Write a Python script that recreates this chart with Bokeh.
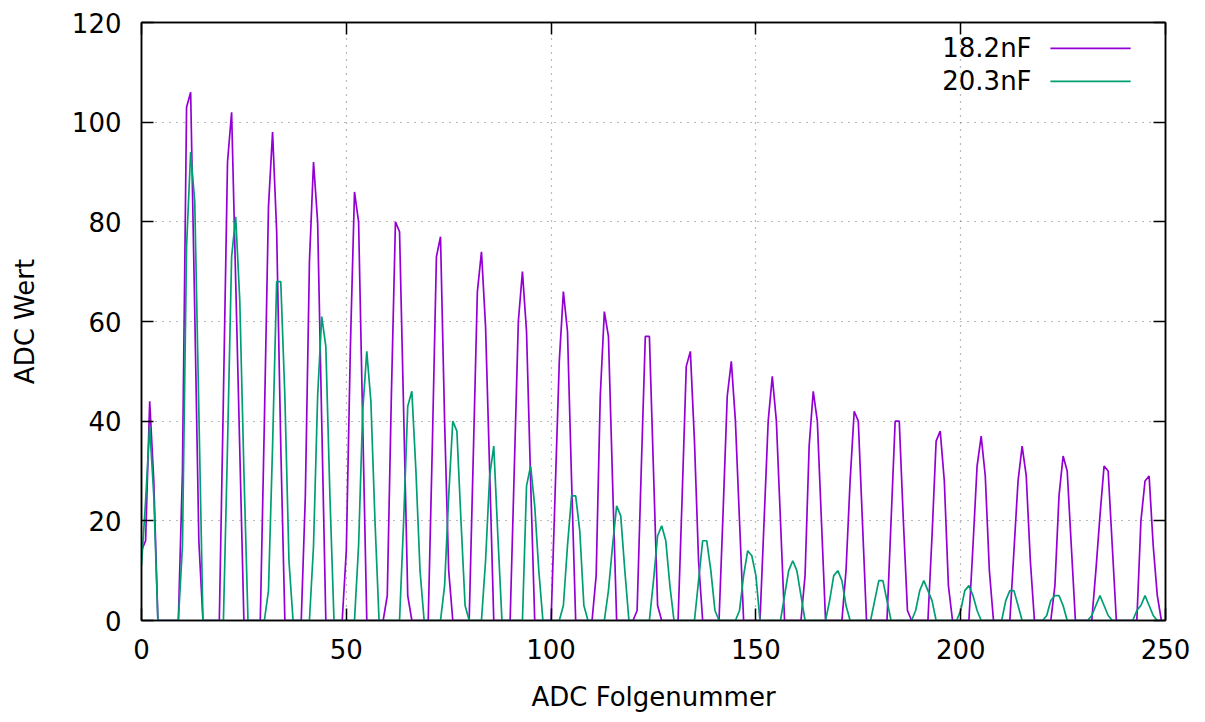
from bokeh.plotting import figure
from bokeh.models import Range1d, FixedTicker, LinearAxis, Label, BoxAnnotation
from bokeh.embed import file_html
from bokeh.resources import INLINE

# ---- data (ADC sample index 0..249) ----
series_names = ["18.2nF", "20.3nF"]
series_colors = ["#9400D3", "#009E73"]

adc_182 = [
    14, 16, 44, 28, 0, 0, 0, 0, 0, 0,
    30, 103, 106, 62, 16, 0, 0, 0, 0, 0,
    45, 92, 102, 68, 34, 0, 0, 0, 0, 0,
    40, 83, 98, 78, 35, 0, 0, 0, 0, 0,
    25, 72, 92, 80, 40, 0, 0, 0, 0, 0,
    14, 55, 86, 80, 40, 0, 0, 0, 0, 0,
    5, 45, 80, 78, 42, 5, 0, 0, 0, 0,
    0, 35, 73, 77, 40, 10, 0, 0, 0, 0,
    0, 33, 66, 74, 59, 30, 0, 0, 0, 0,
    0, 30, 60, 70, 58, 28, 0, 0, 0, 0,
    0, 26, 52, 66, 58, 28, 0, 0, 0, 0,
    0, 9, 45, 62, 57, 28, 0, 0, 0, 0,
    0, 2, 30, 57, 57, 30, 3, 0, 0, 0,
    0, 0, 25, 51, 54, 36, 12, 0, 0, 0,
    0, 0, 22, 45, 52, 40, 20, 0, 0, 0,
    0, 0, 20, 40, 49, 40, 20, 0, 0, 0,
    0, 0, 9, 35, 46, 40, 20, 0, 0, 0,
    0, 0, 10, 28, 42, 40, 20, 0, 0, 0,
    0, 0, 0, 20, 40, 40, 20, 2, 0, 0,
    0, 0, 0, 17, 36, 38, 28, 7, 0, 0,
    0, 0, 0, 15, 31, 37, 29, 10, 0, 0,
    0, 0, 0, 14, 28, 35, 29, 12, 0, 0,
    0, 0, 0, 7, 25, 33, 30, 15, 0, 0,
    0, 0, 0, 10, 21, 31, 30, 15, 0, 0,
    0, 0, 0, 0, 20, 28, 29, 15, 5, 0,
]

adc_203 = [
    11, 24, 39, 25, 0, 0, 0, 0, 0, 0,
    15, 75, 94, 84, 42, 0, 0, 0, 0, 0,
    0, 35, 73, 81, 64, 30, 0, 0, 0, 0,
    0, 6, 35, 68, 68, 45, 12, 0, 0, 0,
    0, 0, 15, 45, 61, 55, 25, 0, 0, 0,
    0, 0, 0, 15, 42, 54, 44, 20, 0, 0,
    0, 0, 0, 0, 20, 43, 46, 30, 10, 0,
    0, 0, 0, 0, 7, 25, 40, 38, 20, 3,
    0, 0, 0, 0, 12, 29, 35, 17, 0, 0,
    0, 0, 0, 0, 27, 31, 23, 10, 0, 0,
    0, 0, 0, 3, 15, 25, 25, 18, 3, 0,
    0, 0, 0, 0, 6, 15, 23, 21, 10, 0,
    0, 0, 0, 0, 0, 8, 17, 19, 16, 7,
    0, 0, 0, 0, 0, 0, 8, 16, 16, 10,
    2, 0, 0, 0, 0, 0, 2, 9, 14, 13,
    9, 0, 0, 0, 0, 0, 0, 5, 10, 12,
    10, 5, 0, 0, 0, 0, 0, 0, 4, 9,
    10, 8, 3, 0, 0, 0, 0, 0, 0, 4,
    8, 8, 4, 0, 0, 0, 0, 0, 0, 2,
    6, 8, 6, 4, 0, 0, 0, 0, 0, 0,
    2, 6, 7, 5, 2, 0, 0, 0, 0, 0,
    0, 4, 6, 6, 3, 0, 0, 0, 0, 0,
    0, 1, 4, 5, 5, 3, 0, 0, 0, 0,
    0, 0, 1, 3, 5, 3, 1, 0, 0, 0,
    0, 0, 0, 2, 3, 5, 3, 1, 0, 0,
]

sample_index = list(range(len(adc_182)))

x_ticks = [0, 50, 100, 150, 200, 250]
y_ticks = [0, 20, 40, 60, 80, 100, 120]
x_title = "ADC Folgenummer"
y_title = "ADC Wert"

FONT = "DejaVu Sans"
FS = "26px"

p = figure(width=1197, height=714, output_backend="svg", toolbar_location=None,
           x_range=Range1d(0, 250), y_range=Range1d(0, 120),
           min_border_left=141, min_border_right=32, min_border_top=22,
           min_border_bottom=94)

p.line(sample_index, adc_182, line_color=series_colors[0], line_width=1.7)
p.line(sample_index, adc_203, line_color=series_colors[1], line_width=1.7)

p.outline_line_color = "black"
p.outline_line_width = 1.5

for ax, ticks in ((p.xaxis[0], x_ticks), (p.yaxis[0], y_ticks)):
    ax.ticker = FixedTicker(ticks=ticks)
    ax.major_tick_in = 12
    ax.major_tick_out = 0
    ax.minor_tick_in = 0
    ax.minor_tick_out = 0
    ax.axis_line_width = 1.5
    ax.major_tick_line_width = 1.5
    ax.major_label_text_font = FONT
    ax.major_label_text_font_size = FS
    ax.major_label_text_color = "black"
    ax.axis_label_text_font = FONT
    ax.axis_label_text_font_size = FS
    ax.axis_label_text_font_style = "normal"
    ax.axis_label_text_color = "black"

p.xaxis[0].axis_label = x_title
p.yaxis[0].axis_label = y_title
p.xaxis[0].major_label_standoff = 18
p.yaxis[0].major_label_standoff = 20
p.xaxis[0].axis_label_standoff = 20
p.yaxis[0].axis_label_standoff = 29

# mirrored ticks on top and right (no labels)
for loc, ticks in (("above", x_ticks), ("right", y_ticks)):
    ax = LinearAxis(ticker=FixedTicker(ticks=ticks))
    ax.major_tick_in = 12
    ax.major_tick_out = 0
    ax.minor_tick_in = 0
    ax.minor_tick_out = 0
    ax.axis_line_width = 1.5
    ax.major_tick_line_width = 1.5
    ax.major_label_text_color = None
    ax.major_label_text_font_size = FS
    ax.major_label_standoff = 0
    p.add_layout(ax, loc)

for g, ticks in ((p.xgrid[0], x_ticks), (p.ygrid[0], y_ticks)):
    g.ticker = FixedTicker(ticks=ticks)
    g.grid_line_color = "#777777"
    g.grid_line_dash = "1 6"
    g.grid_line_width = 1.2

# gnuplot-style key: label text right-aligned, sample line to its right
key_y = [114.8, 108.2]
for name, color, yk in zip(series_names, series_colors, key_y):
    p.add_layout(Label(x=217.3, y=yk, text=name, text_align="right",
                       text_baseline="middle", text_font=FONT,
                       text_font_size=FS, text_color="black"))
    p.add_layout(BoxAnnotation(left=221.9, right=241.5, top=yk, bottom=yk,
                               fill_alpha=0, line_color=color, line_alpha=1.0,
                               line_width=1.7))

open("out.html", "w").write(file_html(p, INLINE))
